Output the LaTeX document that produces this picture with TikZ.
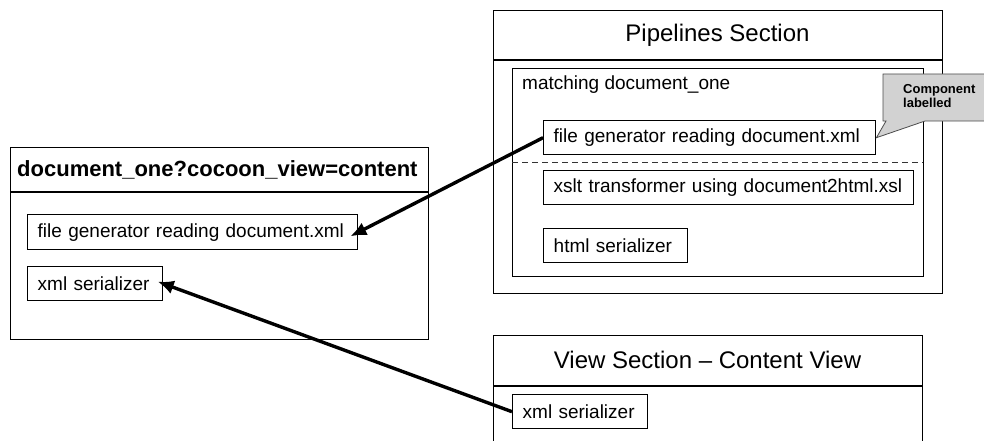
\documentclass[tikz,border=0pt]{standalone}
\usepackage{fontspec}
\setmainfont{Liberation Sans}
\usetikzlibrary{arrows.meta}
\newcommand{\fsz}[1]{\fontsize{#1}{#1}\selectfont}
\tikzset{
  frame/.style={draw, line width=1.4pt},
  comp/.style={draw, line width=1.4pt, anchor=north west, inner xsep=10pt, inner ysep=0pt,
               align=left, font=\fsz{19}},
  title/.style={inner sep=0pt, font=\fsz{24}},
  plain/.style={inner sep=0pt, font=\fsz{19}},
  arr/.style={line width=3.4pt, -{Latex[length=16pt,width=14pt]}},
  callout/.style={draw=black!70, line width=0.8pt, fill=gray!35},
}
\begin{document}
\begin{tikzpicture}[x=1pt,y=-1pt]
\useasboundingbox (0,0) rectangle (984,441);

% request box on the left
\node[frame, anchor=north west, minimum width=418pt, minimum height=192pt, inner sep=0pt] (req) at (10,147) {};
\draw[frame] (10,192) -- (428,192);
\node[inner sep=0pt, anchor=west, font=\fsz{22}\bfseries] (reqtitle) at (17,169.5) {document\_one?cocoon\_view=content};
\node[comp, text width=310pt, minimum height=35pt] (lfg) at (27,214) {file generator reading document.xml};
\node[comp, text width=115pt, minimum height=34pt] (lxml) at (27,266) {xml serializer};

% pipelines section
\node[frame, anchor=north west, minimum width=449pt, minimum height=283pt, inner sep=0pt] (pipes) at (493,10) {};
\draw[frame] (493,60) -- (942,60);
\node[title] (pipetitle) at (717.5,35) {Pipelines Section};
\node[frame, anchor=north west, minimum width=411pt, minimum height=208pt, inner sep=0pt] (match) at (512,68) {};
\node[plain, anchor=west] (matchlabel) at (522,85) {matching document\_one};
\node[comp, text width=312pt, minimum height=34pt] (pfg) at (543,120) {file generator reading document.xml};
\draw[line width=1pt, dash pattern=on 6pt off 4pt, black!80] (512,162) -- (923,162);
\node[comp, text width=350pt, minimum height=34pt] (xslt) at (543,170) {xslt transformer using document2html.xsl};
\node[comp, text width=124pt, minimum height=34pt] (html) at (543,228) {html serializer};

% callout
\draw[callout] (883,74) -- (992,74) -- (992,121) -- (925,121) -- (pfg.east) -- (886,121) -- (883,121) -- cycle;
\node[inner sep=0pt, anchor=north west, align=left, font=\fsz{13}\bfseries] (note) at (903,84) {Component\\[1pt]labelled};

% view section
\node[frame, anchor=north west, minimum width=429pt, minimum height=120pt, inner sep=0pt] (views) at (493,335) {};
\draw[frame] (493,386) -- (922,386);
\node[title] (viewtitle) at (707.5,360) {View Section -- Content View};
\node[comp, text width=115pt, minimum height=34pt] (vxml) at (512,394) {xml serializer};

% connections
\draw[arr, shorten >=-9pt] (pfg.west) -- (lfg.east);
\draw[arr, shorten >=-6pt] (vxml.west) -- (lxml.east);
\end{tikzpicture}
\end{document}
